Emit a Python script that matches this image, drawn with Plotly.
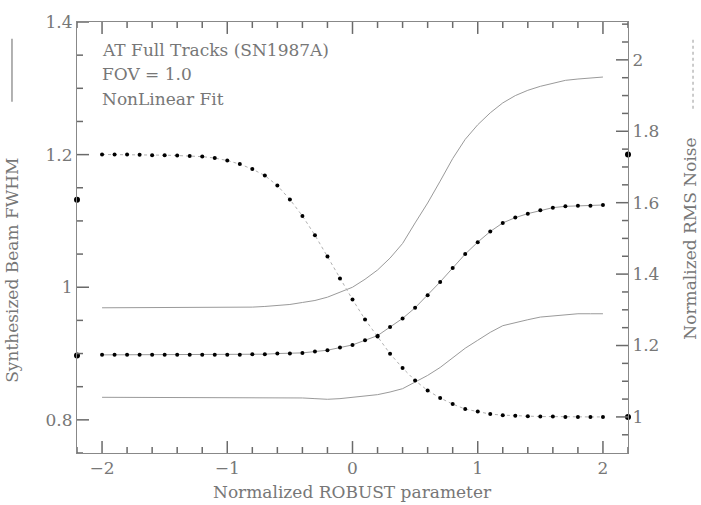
import plotly.graph_objects as go

# Normalized ROBUST parameter samples
robust = [round(-2.0 + 0.1 * i, 1) for i in range(41)]

# Synthesized beam FWHM (left axis): upper and lower solid curves
beam_upper = [0.969, 0.969, 0.969, 0.969, 0.969, 0.969, 0.969, 0.969, 0.969, 0.969,
              0.969, 0.969, 0.970, 0.971, 0.972, 0.974, 0.977, 0.980, 0.985, 0.992,
              1.000, 1.012, 1.026, 1.044, 1.066, 1.097, 1.127, 1.160, 1.194, 1.223,
              1.245, 1.263, 1.278, 1.289, 1.297, 1.303, 1.308, 1.312, 1.314, 1.315, 1.317]
beam_lower = [0.834, 0.834, 0.834, 0.834, 0.834, 0.834, 0.834, 0.834, 0.834, 0.834,
              0.834, 0.834, 0.834, 0.834, 0.834, 0.834, 0.833, 0.832, 0.831, 0.832,
              0.834, 0.836, 0.838, 0.842, 0.847, 0.857, 0.867, 0.879, 0.894, 0.908,
              0.920, 0.932, 0.942, 0.947, 0.951, 0.955, 0.957, 0.959, 0.960, 0.960, 0.960]
# Mean beam FWHM (left axis, dotted markers on solid line)
beam_mean = [0.898, 0.898, 0.898, 0.898, 0.898, 0.898, 0.898, 0.898, 0.898, 0.898,
             0.898, 0.898, 0.899, 0.899, 0.900, 0.900, 0.901, 0.903, 0.905, 0.909,
             0.913, 0.920, 0.927, 0.940, 0.953, 0.969, 0.988, 1.008, 1.029, 1.050,
             1.068, 1.084, 1.097, 1.105, 1.111, 1.116, 1.120, 1.122, 1.123, 1.123, 1.124]
# Normalized RMS noise (right axis)
rms_noise = [1.735, 1.735, 1.735, 1.734, 1.733, 1.733, 1.732, 1.731, 1.729, 1.725,
             1.718, 1.708, 1.694, 1.676, 1.648, 1.609, 1.563, 1.509, 1.449, 1.388,
             1.329, 1.273, 1.225, 1.177, 1.137, 1.102, 1.074, 1.053, 1.036, 1.022,
             1.015, 1.008, 1.005, 1.003, 1.002, 1.001, 1.001, 1.000, 1.000, 1.000, 1.000]

# Limit markers drawn on the axes
left_axis_x = [-2.2, -2.2]
left_axis_vals = [1.132, 0.897]
right_axis_x = [2.2, 2.2]
right_axis_vals = [1.735, 1.0]

X_RANGE = [-2.2, 2.2]
Y1_RANGE = [0.75, 1.4]
Y2_RANGE = [0.899, 2.106]

FONT = "DejaVu Serif"
GREY = "#777777"
LINE = "#9a9a9a"
AX = "#888888"
TICK = "#6a6a6a"

fig = go.Figure()
fig.add_trace(go.Scatter(x=robust, y=beam_upper, mode="lines",
                         line=dict(color=LINE, width=1), yaxis="y"))
fig.add_trace(go.Scatter(x=robust, y=beam_lower, mode="lines",
                         line=dict(color=LINE, width=1), yaxis="y"))
fig.add_trace(go.Scatter(x=robust, y=beam_mean, mode="lines+markers",
                         line=dict(color=LINE, width=1),
                         marker=dict(color="black", size=4), yaxis="y"))
fig.add_trace(go.Scatter(x=robust, y=rms_noise, mode="lines+markers",
                         line=dict(color="#b0b0b0", width=1, dash="dot"),
                         marker=dict(color="black", size=4), yaxis="y2"))
fig.add_trace(go.Scatter(x=left_axis_x, y=left_axis_vals, mode="markers",
                         marker=dict(color="black", size=6), cliponaxis=False, yaxis="y"))
fig.add_trace(go.Scatter(x=right_axis_x, y=right_axis_vals, mode="markers",
                         marker=dict(color="black", size=6), cliponaxis=False, yaxis="y2"))

tickfont = dict(family=FONT, size=17, color=GREY)
plain = dict(showgrid=False, zeroline=False, ticks="")

fig.update_layout(
    width=701, height=505,
    margin=dict(l=77, r=73, t=20, b=52),
    paper_bgcolor="white", plot_bgcolor="white",
    showlegend=False,
    xaxis=dict(range=X_RANGE, tickmode="linear", dtick=1, tick0=0,
               showline=True, linecolor=AX, linewidth=1, mirror=True,
               tickfont=tickfont, **plain),
    yaxis=dict(range=Y1_RANGE, tickmode="linear", dtick=0.2, tick0=0,
               showline=True, linecolor=AX, linewidth=1,
               tickfont=tickfont, **plain),
    yaxis2=dict(range=Y2_RANGE, tickmode="linear", dtick=0.2, tick0=0,
                overlaying="y", side="right",
                showline=True, linecolor=AX, linewidth=1,
                tickfont=tickfont, **plain),
)

# inward-pointing frame ticks (major and minor), placed through the axis scales
PLOT_W, PLOT_H = 551, 433
MAJ, MIN = 12, 6
tick_line = dict(color=TICK, width=1.5)

for k in range(-11, 12):            # x ticks every 0.2, majors at integers
    v = k * 0.2
    ln = MAJ if k % 5 == 0 else MIN
    for y0, y1 in [(0, ln / PLOT_H), (1, 1 - ln / PLOT_H)]:
        fig.add_shape(type="line", xref="x", yref="paper", x0=v, x1=v, y0=y0, y1=y1,
                      line=tick_line, layer="above")

for k in range(15, 29):             # left axis every 0.05, majors every 0.2
    v = k * 0.05
    ln = MAJ if k % 4 == 0 else MIN
    fig.add_shape(type="line", xref="paper", yref="y", x0=0, x1=ln / PLOT_W, y0=v, y1=v,
                  line=tick_line, layer="above")

for k in range(19, 43):             # right axis every 0.05, majors every 0.2
    v = k * 0.05
    ln = MAJ if k % 4 == 0 else MIN
    fig.add_shape(type="line", xref="paper", yref="y2", x0=1, x1=1 - ln / PLOT_W, y0=v, y1=v,
                  line=tick_line, layer="above")

ann_font = dict(family=FONT, size=17, color=GREY)
for txt, yy in [("AT Full Tracks (SN1987A)", 0.935), ("FOV = 1.0", 0.880), ("NonLinear Fit", 0.822)]:
    fig.add_annotation(text=txt, x=0.042, y=yy, xref="paper", yref="paper",
                       xanchor="left", yanchor="middle", showarrow=False, font=ann_font)

fig.add_annotation(text="Normalized ROBUST parameter", x=0.5, y=-0.09, xref="paper", yref="paper",
                   xanchor="center", yanchor="middle", showarrow=False, font=ann_font)
fig.add_annotation(text="Synthesized Beam FWHM", x=-0.118, y=0.425, xref="paper", yref="paper",
                   xanchor="center", yanchor="middle", textangle=-90, showarrow=False, font=ann_font)
fig.add_annotation(text="Normalized RMS Noise", x=1.113, y=0.498, xref="paper", yref="paper",
                   xanchor="center", yanchor="middle", textangle=-90, showarrow=False, font=ann_font)

# line-style keys next to the axis titles
fig.add_shape(type="line", xref="paper", yref="paper", x0=-0.118, x1=-0.118, y0=0.815, y1=0.961,
              line=dict(color="#999999", width=1.5))
fig.add_shape(type="line", xref="paper", yref="paper", x0=1.118, x1=1.118, y0=0.799, y1=0.961,
              line=dict(color="#bbbbbb", width=1.5, dash="dot"))

fig.write_html("out.html")
